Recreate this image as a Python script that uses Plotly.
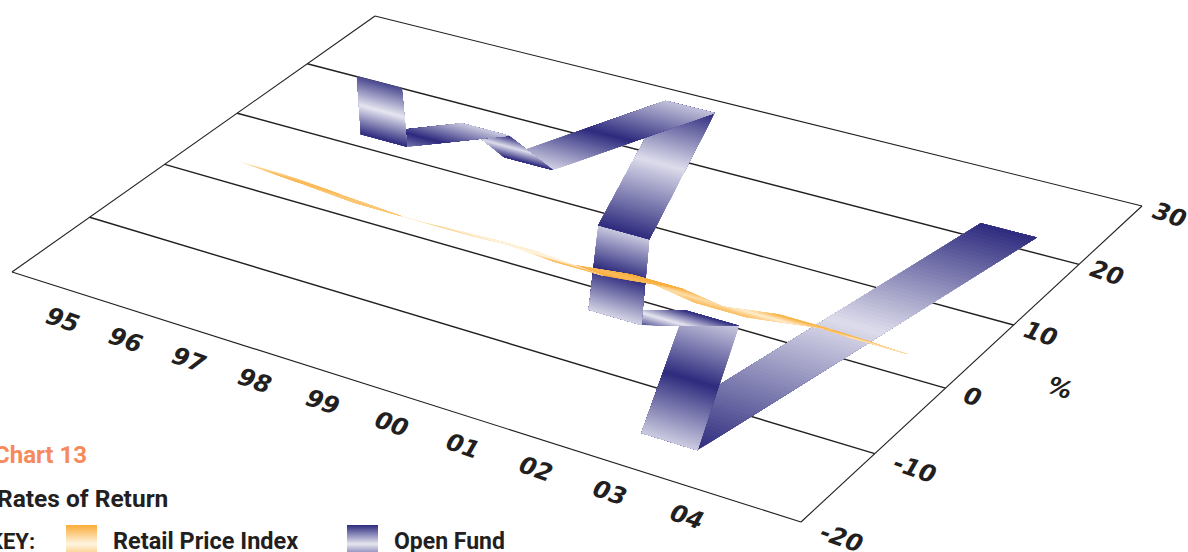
import numpy as np
import plotly.graph_objects as go

# ---- data ----
year_labels = ["95", "96", "97", "98", "99", "00", "01", "02", "03", "04"]
open_fund = [20.1, 11.8, 17.2, 14.0, 28.1, 8.2, -3.0, 0.4, -15.7, 22.1]
retail_price_index = [3.3, 2.7, 2.1, 2.1, 2.5, 1.8, 3.0, 1.7, 3.2, 2.8]
value_ticks = [-20, -10, 0, 10, 20, 30]

# shade along each ribbon segment: start, middle, end (1 = full colour, 0 = pale), middle position
open_start = [0.85, 0.6, 1.0, 0.1, 1.0, 0.15, 0.8, 0.15, 1.0]
open_mid = [0.0, 1.0, 0.05, 1.0, 0.05, 1.0, 0.0, 1.0, 0.05]
open_end = [1.0, 0.15, 1.0, 0.2, 1.0, 0.1, 1.0, 0.15, 1.0]
open_pos = [0.5, 0.35, 0.5, 0.5, 0.45, 0.5, 0.45, 0.5, 0.55]
retail_start = [0.2, 0.8, 0.7, 0.6, 0.1, 1.0, 1.0, 0.8, 1.0]
retail_mid = [0.8, 0.6, 0.4, 0.0, 0.0, 0.8, 0.3, 0.1, 0.8]
retail_end = [0.8, 0.7, 0.6, 0.1, 1.0, 1.0, 0.8, 1.0, 0.1]

DARK = (46, 43, 126)
PALE = (230, 230, 241)
ORANGE = (250, 172, 55)
CREAM = (255, 245, 225)
INK = "#231f20"

# ---- plane projection: (year position, value) -> page ----
src = [(0, -20), (10, -20), (10, 30), (0, 30)]
dst = [(12, 272), (801, 522), (1142, 206), (375, 16)]
A, b = [], []
for (x, y), (X, Y) in zip(src, dst):
    A.append([x, y, 1, 0, 0, 0, -x * X, -y * X]); b.append(X)
    A.append([0, 0, 0, x, y, 1, -x * Y, -y * Y]); b.append(Y)
h = np.linalg.solve(np.array(A, float), np.array(b, float))
M = np.array([[h[0], h[1], h[2]], [h[3], h[4], h[5]], [h[6], h[7], 1.0]])


def project(x, v):
    r = M @ np.array([x, v, 1.0])
    return np.array([r[0] / r[2], r[1] / r[2]])


def year_scale(i):
    return 0.72 + 0.888 * i


DEPTH = 0.65

fig = go.Figure()


def mix(c_pale, c_full, s):
    s = max(0.0, min(1.0, s))
    return "rgb(%d,%d,%d)" % tuple(round(p + (f - p) * s) for p, f in zip(c_pale, c_full))


def shade_at(t, s0, sm, s1, pos):
    return s0 + (sm - s0) * t / pos if t < pos else sm + (s1 - sm) * (t - pos) / (1 - pos)


def poly(pts, color):
    xs = [p[0] for p in pts] + [pts[0][0]]
    ys = [p[1] for p in pts] + [pts[0][1]]
    fig.add_trace(go.Scatter(x=xs, y=ys, mode="none", fill="toself", fillcolor=color,
                             hoverinfo="skip", showlegend=False))


def ribbon(values, starts, mids, ends, poss, c_pale, c_full, n):
    left = [project(year_scale(i), v) for i, v in enumerate(values)]
    right = [project(year_scale(i) + DEPTH, v) for i, v in enumerate(values)]
    for i in range(len(values) - 2, -1, -1):
        # each step repaints the rest of the segment, so no seams show between steps
        for k in range(n):
            t0 = k / n
            s = shade_at((k + 0.5) / n, starts[i], mids[i], ends[i], poss[i])
            pts = [left[i] + (left[i + 1] - left[i]) * t0, right[i] + (right[i + 1] - right[i]) * t0,
                   right[i + 1], left[i + 1]]
            poly(pts, mix(c_pale, c_full, s))


# ---- frame and grid ----
def seg(p, q, w):
    fig.add_trace(go.Scatter(x=[p[0], q[0]], y=[p[1], q[1]], mode="lines",
                             line=dict(color=INK, width=w), hoverinfo="skip", showlegend=False))


for v in value_ticks:
    seg(project(0, v), project(10, v), 1.4 if -20 < v < 30 else 1.1)
seg(project(0, -20), project(0, 30), 1.1)
seg(project(10, -20), project(10, 30), 1.1)

ribbon(open_fund, open_start, open_mid, open_end, open_pos, PALE, DARK, 80)
ribbon(retail_price_index, retail_start, retail_mid, retail_end, [0.5] * 9, CREAM, ORANGE, 10)


# ---- text ----
def label(x, y, text, size=24, angle=19):
    fig.add_annotation(x=x, y=y, text="<b><i>%s</i></b>" % text, showarrow=False, textangle=angle,
                       xanchor="center", yanchor="middle",
                       font=dict(family="DejaVu Sans", size=size, color=INK))


for i, t in enumerate(year_labels):
    p = project(year_scale(i), -20)
    label(p[0] + 1, p[1] + 32, t)
for v in value_ticks:
    p = project(10, v)
    extra = 13 if v < 0 else 0
    label(p[0] + 27 + extra, p[1] + 9 + extra * 0.5, str(v))
p = project(10, 5)
label(p[0] + 80, p[1] + 32, "%")


def side(xa, ya, text, color=INK, anchor="right", size=23):
    fig.add_annotation(x=xa, y=ya, text="<b>%s</b>" % text, showarrow=False, xanchor=anchor, yanchor="middle",
                       font=dict(family="Roboto", size=size, color=color))


side(89, 455, "Chart 13", color="#f58a5c", size=24)
side(170, 498, "Rates of Return", size=24.5)
side(37, 541, "KEY:", size=22)
side(111, 541, "Retail Price Index", anchor="left", size=23.5)
side(392, 541, "Open Fund", anchor="left", size=23)


# ---- key swatches ----
def swatch(x0, x1, c_pale, c_full):
    y0, y1 = 525.0, 552.0
    n = 27
    for k in range(n):
        a = y0 + (y1 - y0) * k / n
        s = abs(a + 0.5 - 544) / 19
        poly([(x0, a), (x1, a), (x1, y1), (x0, y1)], mix(c_pale, c_full, s))


swatch(66, 97, CREAM, ORANGE)
swatch(347, 378, PALE, DARK)

fig.update_layout(width=1188, height=552, margin=dict(l=0, r=0, t=0, b=0),
                  paper_bgcolor="white", plot_bgcolor="white", showlegend=False,
                  xaxis=dict(range=[0, 1188], visible=False, fixedrange=True),
                  yaxis=dict(range=[552, 0], visible=False, fixedrange=True))
fig.write_html("out.html", config=dict(displayModeBar=False),
               post_script="document.body.style.margin='0';document.body.style.overflow='hidden';")
